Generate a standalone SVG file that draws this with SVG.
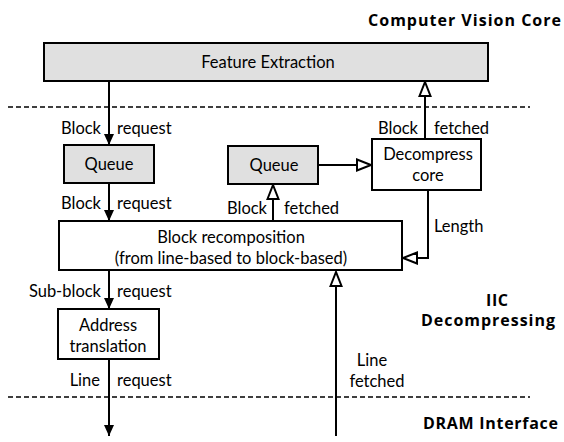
<svg xmlns="http://www.w3.org/2000/svg" width="564" height="442" viewBox="0 0 564 442">
  <defs>
    <style>
      .box { fill: #ffffff; stroke: #000000; stroke-width: 2; }
      .shaded { fill: #e0e0e0; }
      .lbl { font-family: "Lato", "Liberation Sans", sans-serif; font-size: 16.5px; fill: #000000; }
      .mid { text-anchor: middle; }
      .end { text-anchor: end; }
      .title { font-family: "Open Sans", "Liberation Sans", sans-serif; font-size: 16px; font-weight: bold; fill: #000000; }
      .wire { fill: none; stroke: #000000; stroke-width: 2; }
      .req { marker-end: url(#solidHead); }
      .ret { marker-end: url(#openHead); }
      .divider { stroke: #000000; stroke-width: 1.5; stroke-dasharray: 5 3; }
    </style>
    <!-- filled head for request paths -->
    <marker id="solidHead" markerUnits="userSpaceOnUse" markerWidth="12" markerHeight="12" refX="11" refY="5" orient="auto">
      <path d="M0,0 L11,5 L0,10 Z" fill="#000000"/>
    </marker>
    <!-- hollow head for data returning upward -->
    <marker id="openHead" markerUnits="userSpaceOnUse" markerWidth="18" markerHeight="16" refX="15" refY="7" orient="auto">
      <path d="M1,1.5 L15,7 L1,12.5 Z" fill="#ffffff" stroke="#000000" stroke-width="2" stroke-linejoin="miter"/>
    </marker>
  </defs>

  <!-- layer dividers -->
  <line class="divider" x1="8" y1="107" x2="530" y2="107"/>
  <line class="divider" x1="8" y1="397" x2="530" y2="397"/>

  <!-- layer titles -->
  <text class="title" x="368" y="26" textLength="193" lengthAdjust="spacing">Computer Vision Core</text>
  <text class="title" x="486" y="306" textLength="22" lengthAdjust="spacing">IIC</text>
  <text class="title" x="421" y="326" textLength="134" lengthAdjust="spacing">Decompressing</text>
  <text class="title" x="423" y="429" textLength="135" lengthAdjust="spacing">DRAM Interface</text>

  <!-- connectors -->
  <g id="connectors">
    <line class="wire req" x1="109" y1="81" x2="109" y2="145"/>
    <line class="wire req" x1="109" y1="183" x2="109" y2="221"/>
    <line class="wire req" x1="109" y1="270" x2="109" y2="309"/>
    <line class="wire req" x1="109" y1="359" x2="109" y2="436"/>
    <line class="wire ret" x1="425" y1="139" x2="425" y2="82"/>
    <line class="wire ret" x1="318" y1="165" x2="371" y2="165"/>
    <line class="wire ret" x1="273" y1="221" x2="273" y2="185"/>
    <path class="wire ret" d="M428,190 V258 H403"/>
    <line class="wire ret" x1="336" y1="436" x2="336" y2="272"/>

    <text class="lbl end" x="101" y="134">Block</text>
    <text class="lbl" x="117" y="134">request</text>
    <text class="lbl end" x="418" y="134">Block</text>
    <text class="lbl" x="434" y="134">fetched</text>
    <text class="lbl end" x="101" y="209">Block</text>
    <text class="lbl" x="117" y="209">request</text>
    <text class="lbl end" x="267" y="214">Block</text>
    <text class="lbl" x="284" y="214">fetched</text>
    <text class="lbl" x="434" y="232">Length</text>
    <text class="lbl end" x="101" y="297">Sub-block</text>
    <text class="lbl" x="117" y="297">request</text>
    <text class="lbl end" x="100" y="386">Line</text>
    <text class="lbl" x="117" y="386">request</text>
    <text class="lbl mid" x="372" y="366">Line</text>
    <text class="lbl mid" x="377" y="387">fetched</text>
  </g>

  <g id="feature-extraction">
    <rect class="box shaded" x="44" y="43" width="444" height="38"/>
    <text class="lbl mid" x="268" y="68">Feature Extraction</text>
  </g>

  <g id="request-queue">
    <rect class="box shaded" x="64" y="145" width="90" height="38"/>
    <text class="lbl mid" x="109" y="170">Queue</text>
  </g>

  <g id="fetch-queue">
    <rect class="box shaded" x="228" y="146" width="90" height="38"/>
    <text class="lbl mid" x="274" y="171">Queue</text>
  </g>

  <g id="decompress-core">
    <rect class="box" x="372" y="139" width="109" height="51"/>
    <text class="lbl mid" x="428" y="160">Decompress</text>
    <text class="lbl mid" x="428" y="181">core</text>
  </g>

  <g id="block-recomposition">
    <rect class="box" x="59" y="221" width="343" height="49"/>
    <text class="lbl mid" x="231" y="243">Block recomposition</text>
    <text class="lbl mid" x="231" y="264">(from line-based to block-based)</text>
  </g>

  <g id="address-translation">
    <rect class="box" x="58" y="309" width="101" height="50"/>
    <text class="lbl mid" x="108" y="331">Address</text>
    <text class="lbl mid" x="108" y="352">translation</text>
  </g>
</svg>
